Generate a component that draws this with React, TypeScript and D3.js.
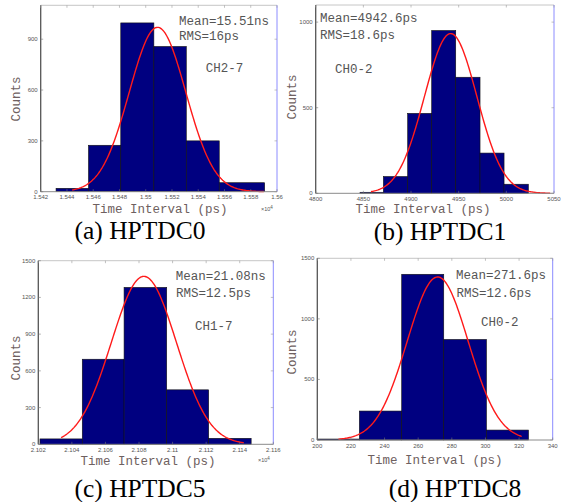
import React from "react";
import * as d3 from "d3";

// ---------- data ----------
const edgesA = [1.54317, 1.54564, 1.5481, 1.55062, 1.55309, 1.5556, 1.55906];
const countsA = [20, 274, 996, 857, 300, 53];
const fitA = { mean: 1.5509, sigma: 0.00215, peak: 970, lo: 1.5444, hi: 1.559 };
const xTickValsA = [1.542, 1.544, 1.546, 1.548, 1.55, 1.552, 1.554, 1.556, 1.558, 1.56];
const xTickLabA = ["1.542", "1.544", "1.546", "1.548", "1.55", "1.552", "1.554", "1.556", "1.558", "1.56"];
const yTicksA = [0, 300, 600, 900];

const edgesB = [4846.5, 4871, 4896.5, 4921.7, 4946.9, 4972.4, 4997.6, 5023.1];
const countsB = [6, 98, 467, 951, 678, 235, 53];
const fitB = { mean: 4941.6, sigma: 27.5, peak: 933, lo: 4858, hi: 5046 };
const xTickValsB = [4800, 4850, 4900, 4950, 5000, 5050];
const xTickLabB = ["4800", "4850", "4900", "4950", "5000", "5050"];
const yTicksB = [0, 500, 1000];

const edgesC = [2.1021, 2.10462, 2.10711, 2.10965, 2.11215, 2.11468];
const countsC = [44, 695, 1282, 445, 49];
const fitC = { mean: 2.10829, sigma: 0.00194, peak: 1372, lo: 2.10336, hi: 2.11424 };
const xTickValsC = [2.102, 2.104, 2.106, 2.108, 2.11, 2.112, 2.114, 2.116];
const xTickLabC = ["2.102", "2.104", "2.106", "2.108", "2.11", "2.112", "2.114", "2.116"];
const yTicksC = [0, 300, 600, 900, 1200, 1500];

const edgesD = [200, 225, 250.2, 275.2, 300.6, 325.6];
const countsD = [8, 239, 1368, 830, 82];
const fitD = { mean: 271.6, sigma: 18.1, peak: 1346, lo: 212.6, hi: 321.6 };
const xTickValsD = [200, 220, 240, 260, 280, 300, 320, 340];
const xTickLabD = ["200", "220", "240", "260", "280", "300", "320", "340"];
const yTicksD = [0, 500, 1000, 1500];

const meanLabels = ["Mean=15.51ns", "Mean=4942.6ps", "Mean=21.08ns", "Mean=271.6ps"];
const rmsLabels = ["RMS=16ps", "RMS=18.6ps", "RMS=12.5ps", "RMS=12.6ps"];
const chLabels = ["CH2-7", "CH0-2", "CH1-7", "CH0-2"];
const captions = ["(a) HPTDC0", "(b) HPTDC1", "(c) HPTDC5", "(d) HPTDC8"];
const xTitle = "Time Interval (ps)";
const yTitle = "Counts";

// ---------- layout ----------
const W = 561;
const H = 502;
const MONO = "'Liberation Mono', 'DejaVu Sans Mono', monospace";
const SERIF = "'Liberation Serif', 'Times New Roman', serif";
const SANS = "'Liberation Sans', Arial, sans-serif";

type Cfg = {
  edges: number[];
  counts: number[];
  fit: { mean: number; sigma: number; peak: number; lo: number; hi: number };
  xTickVals: number[];
  xTickLab: string[];
  yTicks: number[];
  xDomain: [number, number];
  yMax: number;
  rect: { l: number; r: number; t: number; b: number };
  mean: [number, number];
  rms: [number, number];
  ch: [number, number];
  counts_: [number, number];
  xlab: [number, number];
  cap: [number, number];
  exp?: [number, number];
  idx: number;
};

const panels: Cfg[] = [
  {
    edges: edgesA, counts: countsA, fit: fitA, xTickVals: xTickValsA, xTickLab: xTickLabA, yTicks: yTicksA,
    xDomain: [1.542, 1.56], yMax: 1100, rect: { l: 40.7, r: 277, t: 5.3, b: 191.7 },
    mean: [179, 25], rms: [179, 39.5], ch: [205.7, 72], counts_: [20, 99], xlab: [160, 212.5], cap: [140, 239],
    exp: [261, 211], idx: 0,
  },
  {
    edges: edgesB, counts: countsB, fit: fitB, xTickVals: xTickValsB, xTickLab: xTickLabB, yTicks: yTicksB,
    xDomain: [4800, 5050], yMax: 1100, rect: { l: 315.7, r: 554, t: 5, b: 193.3 },
    mean: [320, 21.7], rms: [320, 39], ch: [335, 73], counts_: [296, 97], xlab: [423, 213], cap: [440, 239.5],
    idx: 1,
  },
  {
    edges: edgesC, counts: countsC, fit: fitC, xTickVals: xTickValsC, xTickLab: xTickLabC, yTicks: yTicksC,
    xDomain: [2.102, 2.116], yMax: 1500, rect: { l: 38.3, r: 273.3, t: 260.7, b: 444.3 },
    mean: [175.7, 280], rms: [176, 296.7], ch: [195, 330], counts_: [20, 358], xlab: [148, 465], cap: [140, 497],
    exp: [258, 462], idx: 2,
  },
  {
    edges: edgesD, counts: countsD, fit: fitD, xTickVals: xTickValsD, xTickLab: xTickLabD, yTicks: yTicksD,
    xDomain: [200, 340], yMax: 1500, rect: { l: 317.3, r: 552.7, t: 258.3, b: 440 },
    mean: [456, 279.3], rms: [456.5, 296.7], ch: [481, 326], counts_: [296, 352], xlab: [435, 464], cap: [455, 497],
    idx: 3,
  },
];

function Panel({ c }: { c: Cfg }) {
  const x = d3.scaleLinear().domain(c.xDomain).range([c.rect.l, c.rect.r]);
  const y = d3.scaleLinear().domain([0, c.yMax]).range([c.rect.b, c.rect.t]);
  const bins = c.counts.map((v, i) => ({ x0: c.edges[i], x1: c.edges[i + 1], v }));
  const f = c.fit;
  const pts = d3.range(0, 201).map((k) => {
    const xv = f.lo + ((f.hi - f.lo) * k) / 200;
    return [xv, f.peak * Math.exp(-((xv - f.mean) ** 2) / (2 * f.sigma * f.sigma))] as [number, number];
  });
  const line = d3.line<[number, number]>().x((d) => x(d[0])).y((d) => y(d[1])).curve(d3.curveLinear);
  const tickLen = 2.5;
  return (
    <g>
      <rect x={c.rect.l} y={c.rect.t} width={c.rect.r - c.rect.l} height={c.rect.b - c.rect.t} fill="#fff" />
      {bins.map((b, i) => (
        <rect
          key={i}
          x={x(b.x0)}
          y={y(b.v)}
          width={x(b.x1) - x(b.x0)}
          height={y(0) - y(b.v)}
          fill="#000080"
          stroke="#111"
          strokeWidth={0.6}
        />
      ))}
      <path d={line(pts) || ""} fill="none" stroke="#ff1a1a" strokeWidth={1.4} />
      {/* frame */}
      <line x1={c.rect.l} x2={c.rect.r} y1={c.rect.t} y2={c.rect.t} stroke="#b8b8b8" strokeWidth={0.8} />
      <line x1={c.rect.r} x2={c.rect.r} y1={c.rect.t} y2={c.rect.b} stroke="#8c8cff" strokeWidth={1} />
      <line x1={c.rect.l} x2={c.rect.r} y1={c.rect.b} y2={c.rect.b} stroke="#8a8a8a" strokeWidth={1} />
      <line x1={c.rect.l} x2={c.rect.l} y1={c.rect.t} y2={c.rect.b} stroke="#555" strokeWidth={1.3} />
      {c.xTickVals.map((t, i) => (
        <g key={"xt" + i}>
          <line x1={x(t)} x2={x(t)} y1={c.rect.b} y2={c.rect.b - tickLen} stroke="#777" strokeWidth={0.6} />
          <line x1={x(t)} x2={x(t)} y1={c.rect.t} y2={c.rect.t + tickLen} stroke="#999" strokeWidth={0.6} />
          <text x={x(t)} y={c.rect.b + 7.5} fontSize={6} fontFamily={SANS} fill="#555" textAnchor="middle">
            {c.xTickLab[i]}
          </text>
        </g>
      ))}
      {c.yTicks.map((t, i) => (
        <g key={"yt" + i}>
          <line x1={c.rect.l} x2={c.rect.l + tickLen} y1={y(t)} y2={y(t)} stroke="#777" strokeWidth={0.6} />
          <line x1={c.rect.r} x2={c.rect.r - tickLen} y1={y(t)} y2={y(t)} stroke="#999" strokeWidth={0.6} />
          <text x={c.rect.l - 3} y={y(t) + 2} fontSize={6} fontFamily={SANS} fill="#555" textAnchor="end">
            {String(t)}
          </text>
        </g>
      ))}
      <text x={c.mean[0]} y={c.mean[1]} fontSize={12.5} fontFamily={MONO} fill="#555">
        {meanLabels[c.idx]}
      </text>
      <text x={c.rms[0]} y={c.rms[1]} fontSize={12.5} fontFamily={MONO} fill="#555">
        {rmsLabels[c.idx]}
      </text>
      <text x={c.ch[0]} y={c.ch[1]} fontSize={12.5} fontFamily={MONO} fill="#555">
        {chLabels[c.idx]}
      </text>
      <text
        transform={`translate(${c.counts_[0]},${c.counts_[1]}) rotate(-90)`}
        fontSize={12.5}
        fontFamily={MONO}
        fill="#6e6060"
        textAnchor="middle"
      >
        {yTitle}
      </text>
      <text x={c.xlab[0]} y={c.xlab[1]} fontSize={12.5} fontFamily={MONO} fill="#6e6060" textAnchor="middle">
        {xTitle}
      </text>
      {c.exp && (
        <text x={c.exp[0]} y={c.exp[1]} fontSize={5.5} fontFamily={SANS} fill="#555">
          ×10
          <tspan dy={-2.5} fontSize={4.5}>4</tspan>
        </text>
      )}
      <text x={c.cap[0]} y={c.cap[1]} fontSize={25.5} fontFamily={SERIF} fill="#000" textAnchor="middle">
        {captions[c.idx]}
      </text>
    </g>
  );
}

export default function App() {
  return (
    <svg
      width={W}
      height={H}
      viewBox={`0 0 ${W} ${H}`}
      style={{ position: "absolute", left: 0, top: 0, background: "#fff" }}
    >
      <rect x={0} y={0} width={W} height={H} fill="#fff" />
      {panels.map((c) => (
        <Panel key={c.idx} c={c} />
      ))}
    </svg>
  );
}
